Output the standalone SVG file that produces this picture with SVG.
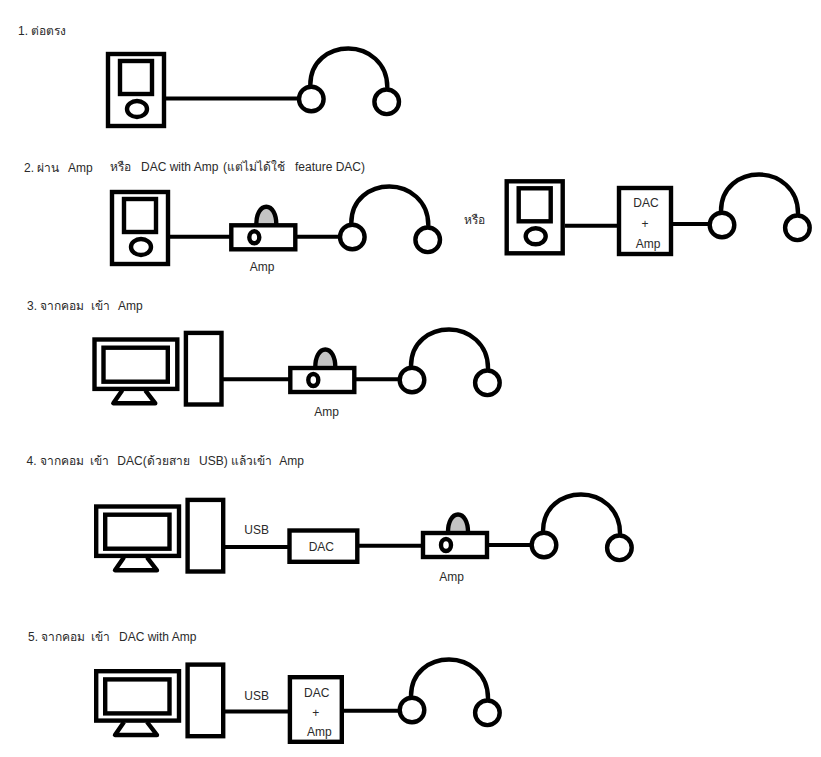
<svg xmlns="http://www.w3.org/2000/svg" width="821" height="757" viewBox="0 0 821 757">
  <style>
    .s { fill: none; stroke: #000; stroke-width: 4.4; }
    .w { fill: #fff; stroke: #000; stroke-width: 4.4; }
    .wire { fill: none; stroke: #000; stroke-width: 4; }
    text { font-family: "Liberation Sans", Arial, "Noto Sans", sans-serif; font-size: 12px; fill: #2a2a2a; }
    .m { text-anchor: middle; }
  </style>
  <defs>
    <!-- portable player, origin at top-left outer corner -->
    <g id="player">
      <rect class="w" x="2" y="2" width="56" height="72"/>
      <rect class="s" x="14" y="9" width="32" height="33"/>
      <ellipse class="s" cx="31" cy="57" rx="10" ry="8"/>
    </g>
    <!-- headphones, origin at the centre of the left cup -->
    <g id="phones">
      <path class="s" stroke-linecap="round" d="M-1,-14 C-1,-38 18,-50.500 37,-50.500 C57,-50.500 76,-36 76,-12"/>
      <circle class="w" cx="0" cy="0" r="12.300"/>
      <circle class="w" cx="75.400" cy="2.800" r="12.300"/>
    </g>
    <!-- amplifier, origin at top-left outer corner of the body -->
    <g id="amp">
      <path fill="#c4c4c4" stroke="#000" stroke-width="4.400" d="M27,1 C27,-9 31,-16.500 37,-16.500 C43,-16.500 47,-9 47,1"/>
      <rect class="w" x="2" y="2" width="64" height="24"/>
      <ellipse class="s" cx="25" cy="14" rx="5" ry="6"/>
    </g>
    <!-- desktop computer, origin at top-left outer corner of the monitor -->
    <g id="pc">
      <path class="w" stroke-linejoin="round" d="M30,53 L21,66 H63 L53,53"/>
      <rect class="w" x="2.200" y="2.200" width="82.800" height="49.400"/>
      <rect class="s" x="11.200" y="10.400" width="64.300" height="34"/>
      <rect class="w" x="93.600" y="-4.400" width="35.600" height="71.600"/>
    </g>
  </defs>

  <rect width="821" height="757" fill="#fff"/>

  <g id="connectors">
    <path class="wire" d="M166,98.500 H300"/>
    <path class="wire" d="M170,236.700 H231 M295,236.700 H341"/>
    <path class="wire" d="M565,225.700 H619 M671,224 H711"/>
    <path class="wire" d="M222,379.300 H291 M354,379.300 H401"/>
    <path class="wire" d="M224,547 H290 M357,545.700 H423 M487,545 H533"/>
    <path class="wire" d="M224,711.500 H290 M342,710.700 H401"/>
  </g>

  <g id="headings">
    <text x="18" y="35">1. ต่อตรง</text>
    <text y="172"><tspan x="24">2. ผ่าน</tspan><tspan x="68">Amp</tspan><tspan x="110" dy="-1.500">หรือ</tspan><tspan x="141">DAC with Amp</tspan><tspan x="223">(แต่ไม่ได้ใช้</tspan><tspan x="295">feature DAC)</tspan></text>
    <text y="310"><tspan x="27">3. จากคอม</tspan><tspan x="90.700">เข้า</tspan><tspan x="118">Amp</tspan></text>
    <text y="464.500"><tspan x="26.500">4. จากคอม</tspan><tspan x="90">เข้า</tspan><tspan x="117.300">DAC(ด้วยสาย</tspan><tspan x="199">USB)</tspan><tspan x="231">แล้วเข้า</tspan><tspan x="279.300">Amp</tspan></text>
    <text y="640.700"><tspan x="28">5. จากคอม</tspan><tspan x="91">เข้า</tspan><tspan x="119">DAC with Amp</tspan></text>
    <text x="464.300" y="224">หรือ</text>
  </g>

  <g id="player-1"><use href="#player" x="106" y="52"/></g>
  <g id="headphones-1"><use href="#phones" x="311.300" y="99"/></g>

  <g id="player-2"><use href="#player" x="110" y="190"/></g>
  <g id="amp-2"><use href="#amp" x="229.300" y="223.300"/><text class="m" x="262" y="271">Amp</text></g>
  <g id="headphones-2"><use href="#phones" x="352.300" y="237"/></g>

  <g id="player-2b"><use href="#player" x="504.700" y="179.300"/></g>
  <g id="dac-amp-2b">
    <rect class="w" x="619" y="188" width="52" height="66"/>
    <text class="m" x="646" y="207">DAC</text>
    <text class="m" x="645" y="228">+</text>
    <text class="m" x="648" y="248">Amp</text>
  </g>
  <g id="headphones-2b"><use href="#phones" x="722" y="225"/></g>

  <g id="computer-3"><use href="#pc" x="92.300" y="337.300"/></g>
  <g id="amp-3"><use href="#amp" x="288.300" y="366"/><text class="m" x="326.700" y="415.700">Amp</text></g>
  <g id="headphones-3"><use href="#phones" x="412" y="380"/></g>

  <g id="computer-4"><use href="#pc" x="94" y="504.300"/></g>
  <g id="usb-4"><text class="m" x="256.700" y="534">USB</text></g>
  <g id="dac-4">
    <rect class="w" x="289.500" y="530.500" width="67.800" height="31.300"/>
    <text class="m" x="321.300" y="551">DAC</text>
  </g>
  <g id="amp-4"><use href="#amp" x="421" y="531"/><text class="m" x="451.500" y="581">Amp</text></g>
  <g id="headphones-4"><use href="#phones" x="544" y="545"/></g>

  <g id="computer-5"><use href="#pc" x="94" y="669"/></g>
  <g id="usb-5"><text class="m" x="256.700" y="699.700">USB</text></g>
  <g id="dac-amp-5">
    <rect class="w" x="289.900" y="677.200" width="51.900" height="64.600"/>
    <text class="m" x="316.700" y="696.700">DAC</text>
    <text class="m" x="315.700" y="716.700">+</text>
    <text class="m" x="319.300" y="736">Amp</text>
  </g>
  <g id="headphones-5"><use href="#phones" x="412" y="710"/></g>
</svg>
